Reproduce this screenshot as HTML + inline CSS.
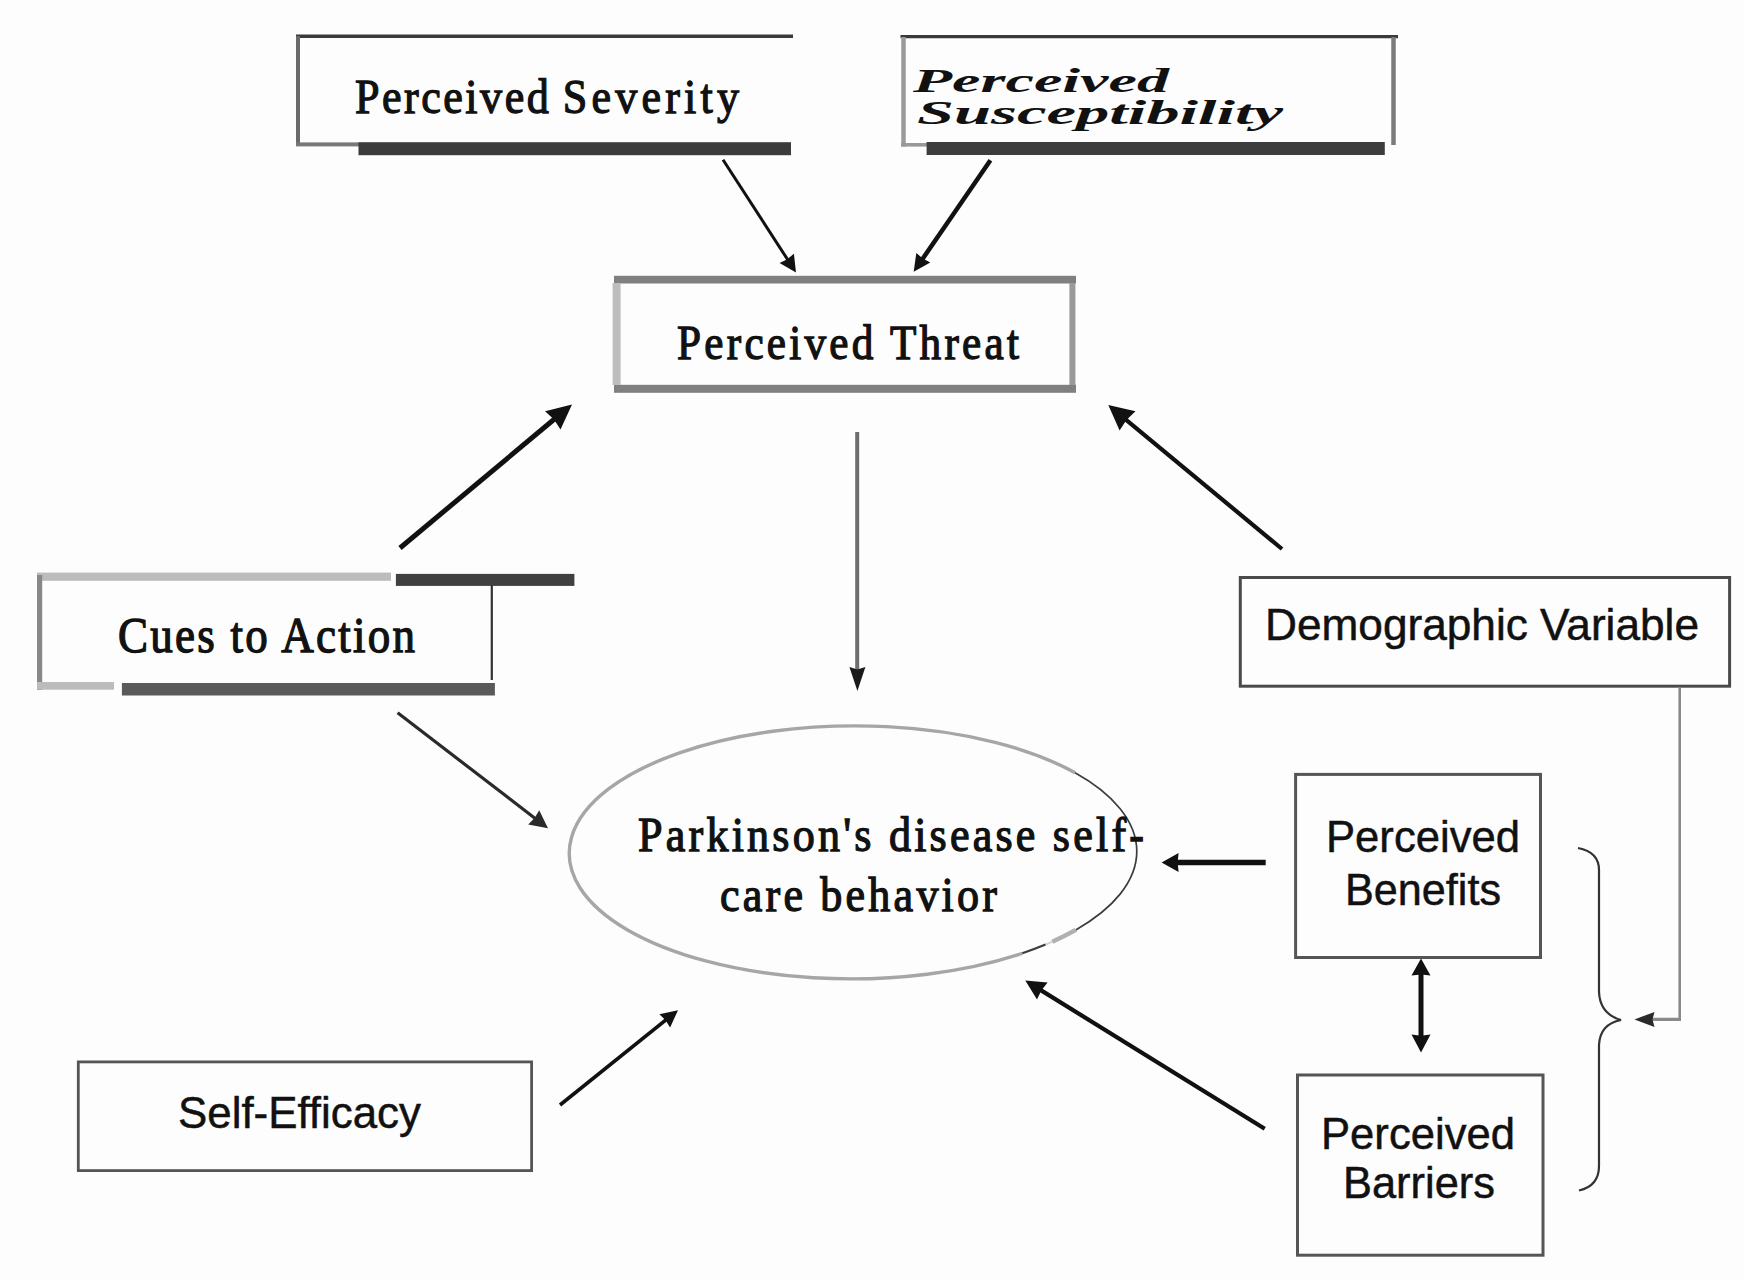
<!DOCTYPE html>
<html>
<head>
<meta charset="utf-8">
<style>
html,body{margin:0;padding:0;background:#fdfdfd;}
body{width:1744px;height:1281px;overflow:hidden;}
svg{display:block;}
.serif{font-family:"Liberation Serif",serif;font-weight:normal;fill:#111;stroke:#111;stroke-width:1.3px;}
.sans{font-family:"Liberation Sans",sans-serif;fill:#111;stroke:#111;stroke-width:0.5px;}
.bi{font-family:"Liberation Serif",serif;font-weight:bold;font-style:italic;fill:#111;}
</style>
</head>
<body>
<svg width="1744" height="1281" viewBox="0 0 1744 1281">
<rect width="1744" height="1281" fill="#fdfdfd"/>

<!-- Perceived Severity box -->
<line x1="296" y1="36.3" x2="793" y2="36.3" stroke="#3a3a3a" stroke-width="3.5"/>
<line x1="298" y1="36" x2="298" y2="146" stroke="#6a6a6a" stroke-width="4"/>
<rect x="296" y="142.4" width="63" height="4" fill="#777"/>
<rect x="358.5" y="142.2" width="432.5" height="13" fill="#3b3b3b"/>
<text class="serif" transform="scale(0.9,1)" x="394.44" y="113" font-size="49" textLength="215.3" lengthAdjust="spacing">Perceived</text>
<text class="serif" transform="scale(0.9,1)" x="625.3" y="113" font-size="49" textLength="195.8" lengthAdjust="spacing">Severity</text>

<!-- Perceived Susceptibility box -->
<line x1="900.5" y1="36.6" x2="1398" y2="36.6" stroke="#3a3a3a" stroke-width="3.2"/>
<line x1="903.5" y1="37" x2="903.5" y2="146.6" stroke="#9a9a9a" stroke-width="4.5"/>
<line x1="1393.5" y1="37" x2="1393.5" y2="145" stroke="#7a7a7a" stroke-width="4.5"/>
<rect x="901" y="143" width="26" height="3.6" fill="#999"/>
<rect x="926.6" y="142" width="458.2" height="13" fill="#3d3d3d"/>
<text class="bi" x="913" y="91.7" font-size="34" textLength="256" lengthAdjust="spacingAndGlyphs">Perceived</text>
<text class="bi" x="917" y="123.8" font-size="34" textLength="366" lengthAdjust="spacingAndGlyphs">Susceptibility</text>

<!-- arrows top -->
<line x1="723.0" y1="159.8" x2="790.5" y2="264.0" stroke="#111" stroke-width="3"/>
<path d="M796.0,272.6 L779.6,262.9 L787.3,259.2 L793.9,253.7 Z" fill="#111"/>

<line x1="990.4" y1="160.2" x2="919.5" y2="263.4" stroke="#111" stroke-width="4.5"/>
<path d="M913.7,271.8 L916.3,253.0 L922.8,258.6 L930.3,262.6 Z" fill="#111"/>


<!-- Perceived Threat box -->
<rect x="614" y="275.8" width="462" height="7.7" fill="#808080"/>
<rect x="614" y="384.8" width="462" height="8" fill="#808080"/>
<rect x="612.6" y="283" width="8" height="102" fill="#bdbdbd"/>
<rect x="1069.4" y="283" width="6" height="102" fill="#9a9a9a"/>
<text class="serif" transform="scale(0.9,1)" x="752.22" y="359" font-size="48" textLength="380.00" lengthAdjust="spacing">Perceived Threat</text>

<!-- Threat -> ellipse vertical arrow -->
<line x1="857.2" y1="432" x2="857.2" y2="672" stroke="#6e6e6e" stroke-width="4"/>
<path d="M857.4,691.0 L849.4,667.0 L857.4,669.4 L865.4,667.0 Z" fill="#1a1a1a"/>


<!-- Cues to Action box -->
<rect x="37" y="572.6" width="354" height="8.2" fill="#bcbcbc"/>
<rect x="37" y="575" width="5.2" height="115" fill="#888"/>
<rect x="37" y="682" width="77" height="7.7" fill="#bcbcbc"/>
<rect x="395.9" y="573.9" width="178.5" height="12" fill="#404040"/>
<rect x="490.7" y="585" width="2.2" height="95" fill="#333"/>
<rect x="121.9" y="683" width="373" height="12.5" fill="#5a5a5a"/>
<text class="serif" transform="scale(0.9,1)" x="131.11" y="651.7" font-size="50" textLength="330.00" lengthAdjust="spacing">Cues to Action</text>

<line x1="400.0" y1="548.0" x2="560.5" y2="414.0" stroke="#111" stroke-width="5"/>
<path d="M572.0,404.4 L560.5,429.6 L554.0,419.5 L545.1,411.2 Z" fill="#111"/>

<line x1="397.6" y1="712.7" x2="539.4" y2="821.7" stroke="#2a2a2a" stroke-width="3.2"/>
<path d="M548.0,828.3 L528.2,824.5 L534.6,818.0 L539.2,810.2 Z" fill="#2a2a2a"/>


<!-- Demographic Variable box -->
<rect x="1240.3" y="577.5" width="489.3" height="108.7" fill="none" stroke="#4a4a4a" stroke-width="3"/>
<text class="sans" x="1265" y="640" font-size="44" textLength="434" lengthAdjust="spacingAndGlyphs">Demographic Variable</text>
<line x1="1282.0" y1="549.0" x2="1119.8" y2="414.6" stroke="#111" stroke-width="4.2"/>
<path d="M1108.3,405.0 L1135.5,411.3 L1126.4,420.0 L1119.6,430.6 Z" fill="#111"/>


<!-- connector from demographic -->
<line x1="1679.7" y1="687" x2="1679.7" y2="1019.4" stroke="#8a8a8a" stroke-width="2.6"/>
<line x1="1681" y1="1019.4" x2="1648" y2="1019.4" stroke="#8a8a8a" stroke-width="3.2"/>
<path d="M1634.5,1019.4 L1654.5,1011.9 L1652.5,1019.4 L1654.5,1026.9 Z" fill="#2a2a2a"/>


<!-- Ellipse -->
<path d="M1022.3,953.3 A283.8,126.5 -0.25 1 1 1075.1,772.8" fill="none" stroke="#a6a6a6" stroke-width="3.4"/>
<path d="M1075.1,772.8 A283.8,126.5 -0.25 0 1 1075.8,929.9" fill="none" stroke="#3c3c3c" stroke-width="1.7"/>
<path d="M1075.8,929.9 A283.8,126.5 -0.25 0 1 1052.3,941.7" fill="none" stroke="#b0b0b0" stroke-width="4.5"/>
<path d="M1052.3,941.7 A283.8,126.5 -0.25 0 1 1045.5,944.6" fill="none" stroke="#d0d0d0" stroke-width="2"/>
<path d="M1045.5,944.6 A283.8,126.5 -0.25 0 1 1022.3,953.3" fill="none" stroke="#3c3c3c" stroke-width="2.2"/>

<text class="serif" transform="scale(0.9,1)" x="708.89" y="850.7" font-size="49" textLength="562.22" lengthAdjust="spacing">Parkinson's disease self-</text>
<text class="serif" transform="scale(0.9,1)" x="800.00" y="910.6" font-size="49" textLength="307.78" lengthAdjust="spacing">care behavior</text>

<!-- Perceived Benefits box -->
<rect x="1295.6" y="774.4" width="244.9" height="183.1" fill="none" stroke="#555" stroke-width="3"/>
<text class="sans" x="1326" y="851.6" font-size="44" textLength="194" lengthAdjust="spacingAndGlyphs">Perceived</text>
<text class="sans" x="1345" y="904.6" font-size="44" textLength="156" lengthAdjust="spacingAndGlyphs">Benefits</text>
<line x1="1265.7" y1="862.6" x2="1171.8" y2="862.6" stroke="#111" stroke-width="5.5"/>
<path d="M1161.6,862.6 L1178.6,853.1 L1177.6,862.6 L1178.6,872.1 Z" fill="#111"/>


<line x1="1421" y1="970" x2="1421" y2="1042" stroke="#111" stroke-width="5"/>
<path d="M1421.0,958.6 L1430.5,975.6 L1421.0,974.6 L1411.5,975.6 Z" fill="#111"/>
<path d="M1421.0,1052.6 L1411.5,1034.6 L1421.0,1035.7 L1430.5,1034.6 Z" fill="#111"/>


<!-- Perceived Barriers box -->
<rect x="1297.5" y="1075" width="245.5" height="180.2" fill="none" stroke="#555" stroke-width="3"/>
<text class="sans" x="1321" y="1149" font-size="44" textLength="194" lengthAdjust="spacingAndGlyphs">Perceived</text>
<text class="sans" x="1343" y="1198.4" font-size="44" textLength="152" lengthAdjust="spacingAndGlyphs">Barriers</text>
<line x1="1264.7" y1="1128.8" x2="1035.5" y2="986.9" stroke="#111" stroke-width="4.2"/>
<path d="M1025.3,980.6 L1047.6,982.6 L1041.3,990.5 L1037.0,999.6 Z" fill="#111"/>


<!-- brace -->
<path d="M1578,848 Q1599,852 1599,870 L1599,992 Q1600,1014 1621,1020 Q1600,1024 1599,1045 L1599,1166 Q1599,1186 1579,1190.5" fill="none" stroke="#333" stroke-width="2.2"/>

<!-- Self-Efficacy box -->
<rect x="78.3" y="1061.9" width="453.3" height="108.7" fill="none" stroke="#555" stroke-width="2.8"/>
<text class="sans" x="178" y="1128" font-size="45" textLength="243" lengthAdjust="spacingAndGlyphs">Self-Efficacy</text>
<line x1="560.0" y1="1105.0" x2="670.0" y2="1016.6" stroke="#111" stroke-width="3.6"/>
<path d="M678.0,1010.2 L670.1,1027.5 L665.5,1020.2 L659.4,1014.2 Z" fill="#111"/>


</svg>
</body>
</html>
